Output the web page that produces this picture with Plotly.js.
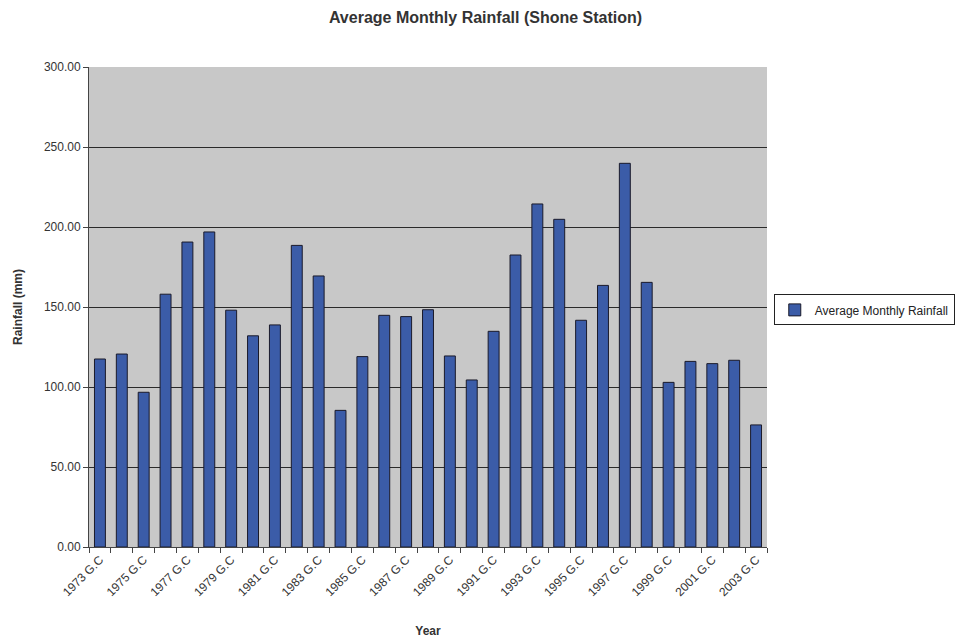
<!DOCTYPE html>
<html>
<head>
<meta charset="utf-8">
<script src="https://cdn.plot.ly/plotly-3.0.1.min.js"></script>
<style>html,body{margin:0;padding:0;background:#fff;}#chart{width:971px;height:643px;}</style>
</head>
<body>
<div id="chart"></div>
<script>
const years = ["1973 G.C","1974 G.C","1975 G.C","1976 G.C","1977 G.C","1978 G.C","1979 G.C","1980 G.C","1981 G.C","1982 G.C","1983 G.C","1984 G.C","1985 G.C","1986 G.C","1987 G.C","1988 G.C","1989 G.C","1990 G.C","1991 G.C","1992 G.C","1993 G.C","1994 G.C","1995 G.C","1996 G.C","1997 G.C","1998 G.C","1999 G.C","2000 G.C","2001 G.C","2002 G.C","2003 G.C"];
const rainfall = [117.5,120.6,96.7,158,190.6,196.9,148,132,138.8,188.5,169.4,85.4,119,144.8,144,148.3,119.4,104.4,134.8,182.5,214.4,204.8,141.7,163.5,239.8,165.4,102.9,116,114.6,116.7,76.3];
const tickLabels = years.map((y,i)=> i%2===0 ? y : "");
const yTicks = [0,50,100,150,200,250,300];
const yTickLabels = ["0.00","50.00","100.00","150.00","200.00","250.00","300.00"];
const seriesName = "Average Monthly Rainfall";

const font = "Liberation Sans, Arial, sans-serif";
Plotly.newPlot("chart",[{
  type:"bar", x:years, y:rainfall, name:seriesName,
  marker:{color:"#3b5ca8", line:{color:"#1a1a2a", width:1}},
  showlegend:true
}],{
  width:971, height:643,
  margin:{l:89, r:204, t:67, b:96},
  paper_bgcolor:"#ffffff", plot_bgcolor:"#c8c8c8",
  bargap:0.5,
  title:{text:"<b>Average Monthly Rainfall (Shone Station)</b>", x:0.5, xanchor:"center", y:0.982, yanchor:"top", font:{family:font, size:16, color:"#333"}},
  xaxis:{type:"category", tickvals:years, ticktext:tickLabels, tickangle:-45, tickson:"boundaries",
    ticks:"outside", ticklen:5, tickcolor:"#444", showline:true, linecolor:"#444", linewidth:1,
    showgrid:false, tickfont:{family:font, size:12, color:"#333"},
    title:{text:"<b>Year</b>", font:{family:font, size:12, color:"#333"}, standoff:28}},
  yaxis:{range:[0,300], tickvals:yTicks, ticktext:yTickLabels, ticks:"outside", ticklen:5, tickcolor:"#444",
    showline:true, linecolor:"#444", linewidth:1, showgrid:true, gridcolor:"#2a2a2a", gridwidth:1, zeroline:false,
    tickfont:{family:font, size:12, color:"#333"},
    title:{text:"<b>Rainfall (mm)</b>", font:{family:font, size:12, color:"#333"}, standoff:18}},
  legend:{x:1.01, xanchor:"left", y:0.494, yanchor:"middle", bordercolor:"#222", borderwidth:1, bgcolor:"#fff",
    font:{family:font, size:12, color:"#222"}, itemwidth:30}
},{displayModeBar:false});
</script>
</body>
</html>
